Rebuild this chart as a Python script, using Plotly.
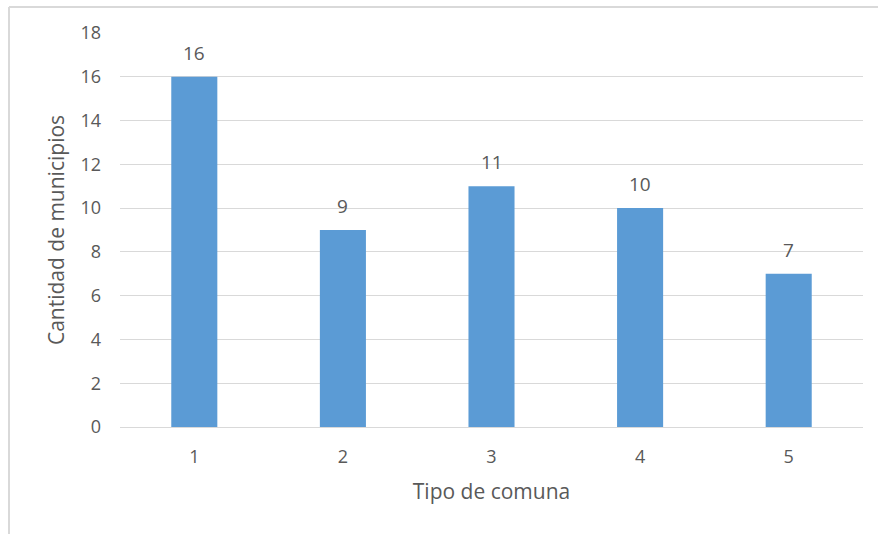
import plotly.graph_objects as go

# Number of municipalities per commune type
tipos = ["1", "2", "3", "4", "5"]
municipios = [16, 9, 11, 10, 7]
y_ticks = [0, 2, 4, 6, 8, 10, 12, 14, 16, 18]

TEXT = "#595959"
GRID = "#d9d9d9"
BAR = "#5B9BD5"
FONT = "Open Sans"

fig = go.Figure(
    go.Bar(
        x=tipos,
        y=municipios,
        marker=dict(color=BAR, line=dict(width=0)),
        width=0.31,
        hoverinfo="x+y",
    )
)

# value labels above each bar (category axis: position by index)
for i, v in enumerate(municipios):
    fig.add_annotation(
        x=i, y=v, text=str(v), showarrow=False,
        yanchor="bottom", yshift=9,
        font=dict(family=FONT, size=19, color=TEXT),
    )

# chart frame (only the top and left edges fall inside the page)
W, H = 743, 394
L, T = 120, 33
fig.add_shape(type="line", xref="paper", yref="paper",
              x0=(9 - L) / W, x1=(878 - L) / W, y0=(T + H - 7) / H, y1=(T + H - 7) / H,
              line=dict(color=GRID, width=2))
fig.add_shape(type="line", xref="paper", yref="paper",
              x0=(9 - L) / W, x1=(9 - L) / W, y0=(T + H - 7) / H, y1=(T + H - 540) / H,
              line=dict(color=GRID, width=2))

fig.update_layout(
    width=878, height=534,
    margin=dict(l=L, r=878 - L - W, t=T, b=534 - T - H),
    paper_bgcolor="white", plot_bgcolor="white",
    font=dict(family=FONT, size=18, color=TEXT),
    showlegend=False,
    xaxis=dict(
        type="category", range=[-0.5, 4.5],
        showgrid=False, showline=False, zeroline=False,
        ticks="", ticklabelstandoff=17,
        tickfont=dict(size=18, color=TEXT),
        title=dict(text="Tipo de comuna", font=dict(size=21, color=TEXT), standoff=17),
    ),
    yaxis=dict(
        range=[0, 18], tickvals=y_ticks,
        showgrid=True, gridcolor=GRID, gridwidth=1.3,
        zeroline=True, zerolinecolor=GRID, zerolinewidth=1.3,
        showline=False, ticks="", ticklabelstandoff=18,
        tickfont=dict(size=18, color=TEXT),
        title=dict(text="Cantidad de municipios", font=dict(size=21, color=TEXT), standoff=10),
    ),
)

fig.write_html("out.html")
